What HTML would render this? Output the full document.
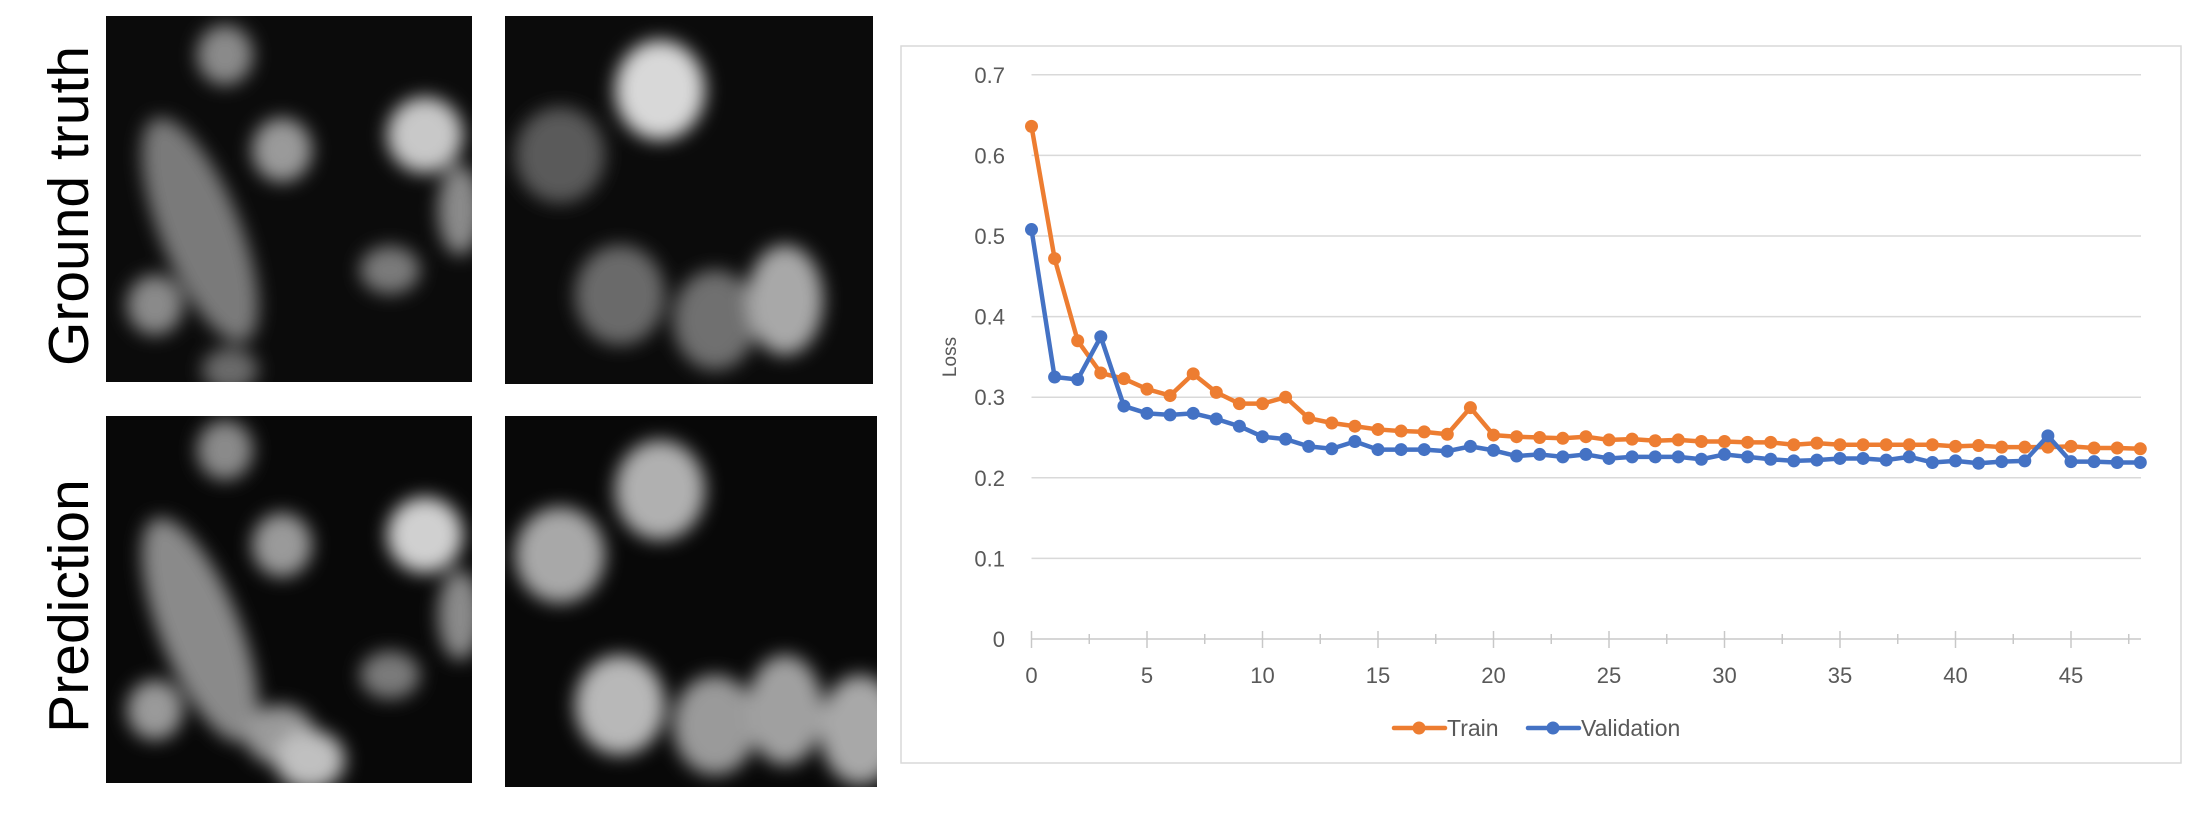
<!DOCTYPE html>
<html><head><meta charset="utf-8"><style>
body{margin:0;background:#fff;width:2200px;height:808px;overflow:hidden;font-family:"Liberation Sans",sans-serif}
</style></head><body>
<svg width="2200" height="808" xmlns="http://www.w3.org/2000/svg">
<defs>
<filter id="bl" x="-50%" y="-50%" width="200%" height="200%"><feGaussianBlur stdDeviation="9"/></filter>
<clipPath id="c1"><rect x="106" y="16" width="366" height="366"/></clipPath>
<clipPath id="c2"><rect x="505" y="16" width="368" height="368"/></clipPath>
<clipPath id="c3"><rect x="106" y="416" width="366" height="367"/></clipPath>
<clipPath id="c4"><rect x="505" y="416" width="372" height="371"/></clipPath>
</defs>
<text transform="translate(88,206) rotate(-90)" text-anchor="middle" font-size="57" fill="#000">Ground truth</text>
<text transform="translate(88,606) rotate(-90)" text-anchor="middle" font-size="57" fill="#000">Prediction</text>
<g clip-path="url(#c1)">
<rect x="106" y="16" width="366" height="366" fill="#0b0b0b"/>
<g filter="url(#bl)">
<ellipse cx="225" cy="55" rx="28" ry="30" fill="#8a8a8a"/>
<ellipse cx="282" cy="150" rx="30" ry="32" fill="#9a9a9a"/>
<ellipse cx="425" cy="135" rx="38" ry="38" fill="#c8c8c8"/>
<ellipse cx="200" cy="230" rx="40" ry="120" transform="rotate(-22 200 230)" fill="#7a7a7a"/>
<ellipse cx="155" cy="305" rx="28" ry="30" fill="#8a8a8a"/>
<ellipse cx="390" cy="270" rx="30" ry="24" fill="#7a7a7a"/>
<ellipse cx="460" cy="210" rx="22" ry="45" fill="#8a8a8a"/>
<ellipse cx="230" cy="370" rx="28" ry="22" fill="#6a6a6a"/>
</g></g>
<g clip-path="url(#c2)">
<rect x="505" y="16" width="368" height="368" fill="#0b0b0b"/>
<g filter="url(#bl)">
<ellipse cx="660" cy="90" rx="45" ry="50" fill="#d8d8d8"/>
<ellipse cx="560" cy="155" rx="45" ry="48" fill="#5a5a5a"/>
<ellipse cx="620" cy="295" rx="45" ry="50" fill="#6a6a6a"/>
<ellipse cx="715" cy="320" rx="42" ry="50" fill="#707070"/>
<ellipse cx="785" cy="300" rx="38" ry="55" fill="#a8a8a8"/>
</g></g>
<g clip-path="url(#c3)">
<rect x="106" y="416" width="366" height="367" fill="#080808"/>
<g filter="url(#bl)">
<ellipse cx="225" cy="450" rx="28" ry="30" fill="#8a8a8a"/>
<ellipse cx="282" cy="545" rx="30" ry="32" fill="#9a9a9a"/>
<ellipse cx="425" cy="535" rx="38" ry="38" fill="#d0d0d0"/>
<ellipse cx="200" cy="630" rx="40" ry="120" transform="rotate(-22 200 630)" fill="#8a8a8a"/>
<ellipse cx="155" cy="710" rx="28" ry="30" fill="#9a9a9a"/>
<ellipse cx="390" cy="675" rx="30" ry="24" fill="#7a7a7a"/>
<ellipse cx="460" cy="615" rx="22" ry="45" fill="#8a8a8a"/>
<ellipse cx="280" cy="735" rx="35" ry="30" fill="#9a9a9a"/>
<ellipse cx="310" cy="760" rx="35" ry="30" fill="#c0c0c0"/>
</g></g>
<g clip-path="url(#c4)">
<rect x="505" y="416" width="372" height="371" fill="#080808"/>
<g filter="url(#bl)">
<ellipse cx="660" cy="490" rx="45" ry="50" fill="#b0b0b0"/>
<ellipse cx="560" cy="555" rx="45" ry="48" fill="#a8a8a8"/>
<ellipse cx="620" cy="705" rx="45" ry="50" fill="#b8b8b8"/>
<ellipse cx="715" cy="725" rx="42" ry="50" fill="#9a9a9a"/>
<ellipse cx="785" cy="710" rx="38" ry="55" fill="#a0a0a0"/>
<ellipse cx="860" cy="730" rx="40" ry="55" fill="#a8a8a8"/>
</g></g>
<rect x="901" y="46" width="1280" height="717" fill="none" stroke="#d9d9d9" stroke-width="1.5"/>
<g id="chart"></g>
</svg>
<script>
const epochs=[0,1,2,3,4,5,6,7,8,9,10,11,12,13,14,15,16,17,18,19,20,21,22,23,24,25,26,27,28,29,30,31,32,33,34,35,36,37,38,39,40,41,42,43,44,45,46,47,48];
const trainLoss=[.636,.472,.370,.330,.323,.310,.302,.329,.306,.292,.292,.300,.274,.268,.264,.260,.258,.257,.254,.287,.253,.251,.250,.249,.251,.247,.248,.246,.247,.245,.245,.244,.244,.241,.243,.241,.241,.241,.241,.241,.239,.240,.238,.238,.238,.239,.237,.237,.236];
const valLoss=[.508,.325,.322,.375,.289,.280,.278,.280,.273,.264,.251,.248,.239,.236,.245,.235,.235,.235,.233,.239,.234,.227,.229,.226,.229,.224,.226,.226,.226,.223,.229,.226,.223,.221,.222,.224,.224,.222,.226,.219,.221,.218,.220,.221,.252,.220,.220,.219,.219];
const yTicks=[0,0.1,0.2,0.3,0.4,0.5,0.6,0.7];
const xTicks=[0,5,10,15,20,25,30,35,40,45];
const NS="http://www.w3.org/2000/svg",g=document.getElementById('chart');
const X0=1031.5,XU=23.1,Y0=639,YU=806,XR=2141;
const xs=v=>X0+v*XU, ys=v=>Y0-v*YU;
function mk(t,a){const e=document.createElementNS(NS,t);for(const k in a)e.setAttribute(k,a[k]);g.appendChild(e);return e;}
yTicks.forEach(t=>{
 const l=mk('line',{x1:X0,x2:XR,y1:ys(t),y2:ys(t),stroke:t===0?'#c8c8c8':'#d9d9d9','stroke-width':1.5});
 
 
 const tx=mk('text',{x:1005,y:ys(t)+8,'text-anchor':'end','font-size':22,fill:'#595959'});tx.textContent=String(t);
 
 
});
for(let i=0;i<=48;i+=2.5){const major=(i%5===0);const tk=mk('line',{x1:xs(i),x2:xs(i),y1:Y0-(major?8:5),y2:Y0+(major?9:5),stroke:'#c8c8c8','stroke-width':1.5});
 
 }
xTicks.forEach(t=>{const tx=mk('text',{x:xs(t),y:683,'text-anchor':'middle','font-size':22,fill:'#595959'});tx.textContent=String(t);
 
 });
const yl=mk('text',{transform:'translate(956,357) rotate(-90)','text-anchor':'middle','font-size':19,fill:'#595959'});yl.textContent='Loss';


function series(d,c,n){
 const p=mk('polyline',{points:d.map((v,i)=>xs(epochs[i])+','+ys(v)).join(' '),fill:'none',stroke:c,'stroke-width':4.5,'stroke-linejoin':'round'});
 
 
 d.forEach((v,i)=>{const m=mk('circle',{cx:xs(epochs[i]),cy:ys(v),r:6.5,fill:c});
  
  });
}
series(trainLoss,'#ed7d31','train');
series(valLoss,'#4472c4','validation');
function leg(x,c,t,n){
 const l=mk('line',{x1:x,x2:x+51,y1:728,y2:728,stroke:c,'stroke-width':4.5,'stroke-linecap':'round'});
 
 
 const m=mk('circle',{cx:x+25,cy:728,r:6.5,fill:c});
 
 
 const tx=mk('text',{x:x+53,y:736,'font-size':23,fill:'#595959'});tx.textContent=t;
 
 
}
leg(1394,'#ed7d31','Train','train');
leg(1528,'#4472c4','Validation','validation');
</script>
</body></html>
